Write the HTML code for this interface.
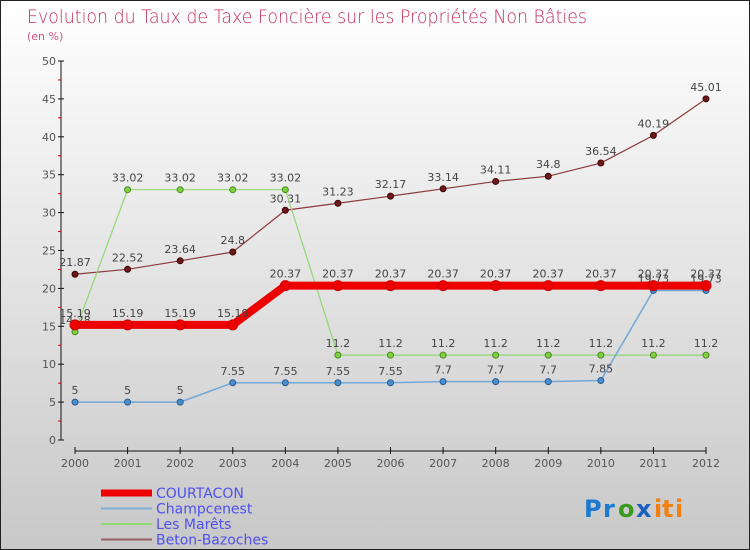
<!DOCTYPE html>
<html><head><meta charset="utf-8"><style>
html,body{margin:0;padding:0}
body{width:750px;height:550px;overflow:hidden;font-family:"DejaVu Sans","Liberation Sans",sans-serif}
#wrap{position:relative;width:748px;height:548px;border:1px solid #222;background:linear-gradient(#ffffff,#c8c8c8)}
</style></head><body>
<div id="wrap">
<svg id="chart" width="748" height="548" style="position:absolute;left:0;top:0">
<text x="26" y="22" font-size="19" fill="#c0305a" style="font-family:'DejaVu Sans',sans-serif;font-weight:200" textLength="560" lengthAdjust="spacingAndGlyphs">Evolution du Taux de Taxe Foncière sur les Propriétés Non Bâties</text>
<text x="26" y="39" font-size="11" fill="#d05080">(en %)</text>
<g id="axes"></g><g id="series"></g><g id="legend"></g>
<g font-size="24" font-weight="bold" font-family="'DejaVu Sans',sans-serif">
<text x="583" y="516" fill="#1a7ad0">P</text><text x="602" y="516" fill="#1a7ad0">r</text><text x="617" y="516" fill="#3a9a20">o</text><text x="635" y="516" fill="#1a60c0">x</text><text x="653" y="516" fill="#f08010">i</text><text x="661" y="516" fill="#f08010">t</text><text x="674" y="516" fill="#f08010">i</text>
</g>
</svg></div>
<script>
const years=["2000","2001","2002","2003","2004","2005","2006","2007","2008","2009","2010","2011","2012"];
const yTicks=[0,5,10,15,20,25,30,35,40,45,50];
const courtacon=[15.19,15.19,15.19,15.19,20.37,20.37,20.37,20.37,20.37,20.37,20.37,20.37,20.37];
const champcenest=[5,5,5,7.55,7.55,7.55,7.55,7.7,7.7,7.7,7.85,19.73,19.73];
const lesMarets=[14.28,33.02,33.02,33.02,33.02,11.2,11.2,11.2,11.2,11.2,11.2,11.2,11.2];
const beton=[21.87,22.52,23.64,24.8,30.31,31.23,32.17,33.14,34.11,34.8,36.54,40.19,45.01];
const NS="http://www.w3.org/2000/svg";
function X(i){return 74+i*(705-74)/12;}
function Y(v){return 439-v*(439-60)/50;}
function mk(p,t,a){const e=document.createElementNS(NS,t);for(const k in a)e.setAttribute(k,a[k]);p.appendChild(e);return e;}
const ax=document.getElementById('axes');
let l=mk(ax,'line',{x1:60,y1:60,x2:60,y2:439,stroke:'#111'});

for(let v=0;v<=50;v+=2.5){const maj=v%5===0;mk(ax,'line',{x1:57,x2:maj?63:60,y1:Y(v),y2:Y(v),stroke:maj?'#111':'#c00'});}
yTicks.forEach(v=>{const t=mk(ax,'text',{x:55,y:Y(v)+4,'text-anchor':'end','font-size':11,fill:'#555'});t.textContent=v;
});
l=mk(ax,'line',{x1:X(0),y1:450,x2:X(12),y2:450,stroke:'#111'});

years.forEach((y,i)=>{mk(ax,'line',{x1:X(i),x2:X(i),y1:446,y2:453,stroke:'#111'});
const t=mk(ax,'text',{x:X(i),y:466,'text-anchor':'middle','font-size':11,fill:'#555'});t.textContent=y;
});
const sg=document.getElementById('series');
function series(name,data,color,w,dot,dotStroke,r){
const g=mk(sg,'g',{});
mk(g,'polyline',{points:data.map((v,i)=>X(i)+','+Y(v)).join(' '),fill:'none',stroke:color,'stroke-width':w});
data.forEach((v,i)=>{const c=mk(g,'circle',{cx:X(i),cy:Y(v),r:r,fill:dot,stroke:dotStroke});

const t=mk(g,'text',{x:X(i),y:Y(v)-8,'text-anchor':'middle','font-size':11,fill:'#444'});t.textContent=v;
});}
series('beton-bazoches',beton,'#8b3a3a',1.2,'#6a1a1a','#400',3);
series('les-marets',lesMarets,'#90d870',1.2,'#80d040','#4a8a20',3);
series('champcenest',champcenest,'#70a8d8',1.5,'#4a90d0','#2a5a90',3);
series('courtacon',courtacon,'#ee0000',8,'#ee0000','#c00',5);
const lg=document.getElementById('legend');
const items=[['COURTACON','#ee0000',7],['Champcenest','#80b0d8',2],['Les Marêts','#90d870',2],['Beton-Bazoches','#986060',2]];
items.forEach((it,i)=>{const y=492+i*15.5;const g=mk(lg,'g',{});

mk(g,'line',{x1:100,x2:151,y1:y,y2:y,stroke:it[1],'stroke-width':it[2]});
const t=mk(g,'text',{x:155,y:y+5,'font-size':14,fill:'#5050ee'});t.textContent=it[0];});
</script></body></html>
